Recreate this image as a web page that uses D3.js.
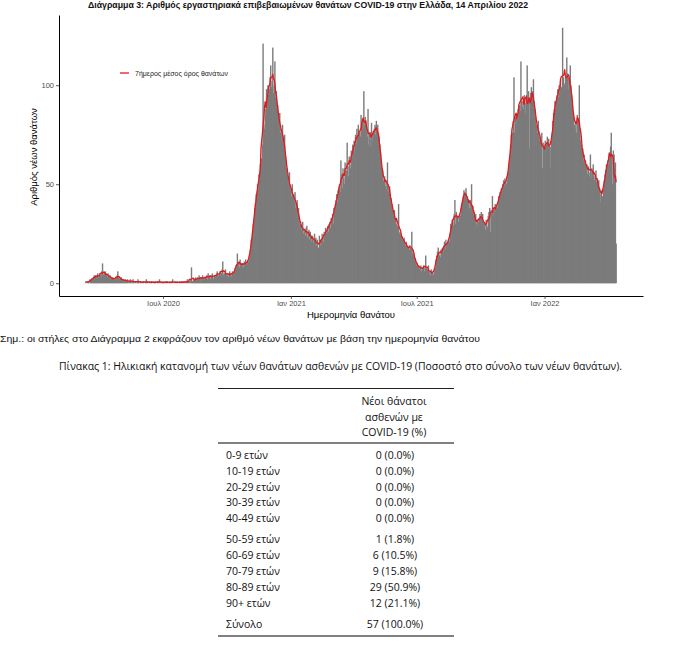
<!DOCTYPE html>
<html><head><meta charset="utf-8">
<script src="https://cdn.jsdelivr.net/npm/d3@7"></script>
<style>
html,body{margin:0;padding:0;background:#fff;}
svg{display:block;}
</style></head>
<body><svg id="c" width="680" height="646"></svg>
<script>
// ---------------- DATA ----------------
const chartTitle = "Διάγραμμα 3: Αριθμός εργαστηριακά επιβεβαιωμένων θανάτων COVID-19 στην Ελλάδα, 14 Απριλίου 2022";
const yAxisTitle = "Αριθμός νέων θανάτων";
const xAxisTitle = "Ημερομηνία θανάτου";
const legendLabel = "7ήμερος μέσος όρος θανάτων";
const noteText = "Σημ.: οι στήλες στο Διάγραμμα 2 εκφράζουν τον αριθμό νέων θανάτων με βάση την ημερομηνία θανάτου";
const tableCaption = "Πίνακας 1: Ηλικιακή κατανομή των νέων θανάτων ασθενών με COVID-19 (Ποσοστό στο σύνολο των νέων θανάτων).";

const startDate = "2020-03-12";
// daily new deaths by date of death, one value per day from startDate
const dailyDeaths = [
 // 2020 Mar (from 12th)
 1,0,0,1,1,0,2,1,2,2,2,3,4,2,4,4,2,5,3,4,
 // Apr
 5,4,3,6,10,4,5,4,6,5,4,3,5,4,3,4,2,3,2,3,2,2,1,3,3,4,6,3,2,3,
 // May
 2,3,1,2,1,2,1,2,1,1,2,1,0,1,2,1,0,1,2,1,0,1,1,0,1,2,1,0,1,1,0,
 // Jun
 1,0,1,0,0,1,2,0,1,0,0,1,0,1,1,0,0,1,0,1,0,0,1,1,0,2,0,1,0,0,
 // Jul
 1,0,0,1,0,1,1,0,0,1,0,0,1,0,2,0,0,1,0,1,0,1,0,0,1,0,1,0,1,0,1,
 // Aug
 0,1,0,1,2,0,1,1,0,2,8,1,1,2,2,1,3,2,1,3,2,4,2,3,1,3,4,2,3,2,3,
 // Sep
 3,4,2,5,3,4,2,3,4,5,3,2,4,4,3,5,6,3,4,5,6,4,5,7,11,4,5,5,7,4,
 // Oct
 5,4,3,5,6,4,5,3,6,5,4,6,7,9,8,15,9,11,8,12,10,9,9,10,8,11,9,12,10,9,11,
 // Nov
 11,12,15,17,22,21,26,30,32,38,40,45,44,50,47,55,52,60,58,63,70,121,80,78,88,85,98,92,100,95,
 // Dec
 98,104,110,99,102,119,96,100,112,94,97,88,90,85,80,86,76,78,72,80,70,74,75,66,62,58,55,52,50,56,48,
 // 2021 Jan
 47,44,50,42,45,41,46,38,40,42,36,38,33,28,30,27,29,31,25,27,26,24,28,29,23,25,27,22,26,24,21,
 // Feb
 24,22,20,25,21,23,19,22,15,18,24,21,19,22,25,23,21,26,24,28,25,27,29,26,30,31,28,33,
 // Mar
 32,35,30,38,36,40,42,45,41,47,44,50,46,62,55,48,58,53,50,61,55,57,71,59,54,64,60,58,67,63,70,
 // Apr
 68,72,66,75,70,78,73,80,70,76,74,85,77,83,78,97,80,84,72,79,74,88,70,76,73,69,81,75,71,77,
 // May
 78,80,75,82,77,80,76,74,70,66,60,58,57,52,50,54,49,52,47,61,46,48,49,45,43,40,38,36,34,37,32,
 // Jun
 33,30,29,28,40,25,26,24,25,23,22,21,23,20,19,21,18,19,18,17,17,18,17,26,15,17,14,13,12,11,
 // Jul
 9,10,8,9,7,8,9,6,8,7,9,6,8,14,8,6,7,9,5,6,4,7,5,6,4,5,7,8,12,14,16,
 // Aug
 18,15,14,13,17,16,18,15,19,21,17,22,20,20,18,22,21,25,30,27,32,31,29,35,42,30,36,32,34,31,33,
 // Sep
 35,34,38,40,42,44,47,46,45,48,43,44,41,40,38,42,36,50,37,39,34,36,27,35,30,32,29,31,33,35,
 // Oct
 33,36,32,35,31,29,30,27,32,29,28,34,36,38,26,37,35,44,34,38,37,40,36,39,38,41,44,43,46,45,48,
 // Nov
 47,50,52,49,53,51,50,54,52,56,60,64,70,75,72,76,82,104,76,84,80,86,83,88,85,90,87,112,92,89,
 // Dec
 92,88,95,91,86,93,110,90,97,68,94,96,99,93,97,103,92,88,84,80,78,76,82,77,72,74,70,76,58,71,69,
 // 2022 Jan
 68,72,66,70,74,72,73,70,69,58,72,76,82,86,88,92,88,92,95,98,94,100,97,103,99,98,129,104,101,100,104,
 // Feb
 103,114,106,98,104,102,110,100,95,90,86,84,80,78,82,76,85,80,83,100,78,72,70,66,68,62,65,60,
 // Mar
 62,58,60,55,59,56,54,65,53,58,56,60,54,52,55,57,51,53,49,52,48,41,45,47,44,43,48,52,55,57,60,
 // Apr (to 14th)
 58,62,60,66,63,69,76,64,50,67,65,58,61,20
];

const xTickDates  = ["2020-07-01","2021-01-01","2021-07-01","2022-01-01"];
const xTickLabels = ["Ιουλ 2020","Ιαν 2021","Ιουλ 2021","Ιαν 2022"];
const yTickValues = [0, 50, 100];

// Table 1
const tableHeader = ["Νέοι θάνατοι","ασθενών με","COVID-19 (%)"];
const ageGroups = ["0-9 ετών","10-19 ετών","20-29 ετών","30-39 ετών","40-49 ετών",
                   "50-59 ετών","60-69 ετών","70-79 ετών","80-89 ετών","90+ ετών"];
const ageDeaths = [0,0,0,0,0,1,6,9,29,12];
const agePercents = ["0.0%","0.0%","0.0%","0.0%","0.0%","1.8%","10.5%","15.8%","50.9%","21.1%"];
const totalLabel = "Σύνολο";
const totalDeaths = 57;
const totalPercent = "100.0%";

// ---------------- CHART ----------------
const svg = d3.select("#c");
const DAY = 864e5;
const parse = d3.utcParse("%Y-%m-%d");
const t0 = parse(startDate);
const series = dailyDeaths.map((v,i)=>({date:new Date(t0.getTime()+i*DAY), v}));
// centred 7-day rolling mean
series.forEach((d,i)=>{
  const w = dailyDeaths.slice(Math.max(0,i-3), Math.min(dailyDeaths.length,i+4));
  d.avg = d3.mean(w);
});

const first = series[0].date, last = series[series.length-1].date;
const spanMs = (last-first) + 0.9*DAY;
const padMs = spanMs*0.05;
const x = d3.scaleUtc()
  .domain([new Date(first.getTime()-0.45*DAY-padMs), new Date(last.getTime()+0.45*DAY+padMs)])
  .range([59, 643]);
const maxV = d3.max(dailyDeaths);
const y = d3.scaleLinear().domain([-0.05*maxV, maxV*1.05]).range([296, 15]);

const dayW = x(new Date(first.getTime()+DAY)) - x(first);

// bars
svg.append("g").selectAll("rect").data(series).join("rect")
  .attr("x", d=>x(d.date)-dayW*0.5-0.35)
  .attr("width", dayW+0.7)
  .attr("y", d=>y(d.v))
  .attr("height", d=>Math.max(0, y(0)-y(d.v)))
  .attr("fill", "#7b7b7b");

// rolling mean line
svg.append("path").datum(series)
  .attr("d", d3.line().x(d=>x(d.date)).y(d=>y(d.avg)))
  .attr("fill","none").attr("stroke","#e3191c").attr("stroke-width",1.3)
  .attr("stroke-linejoin","round");

// axes
const yAx = svg.append("g").attr("transform","translate(59,0)")
  .call(d3.axisLeft(y).tickValues(yTickValues).tickSize(3).tickSizeOuter(0).tickPadding(2));
const xAx = svg.append("g").attr("transform","translate(0,296)")
  .call(d3.axisBottom(x).tickValues(xTickDates.map(parse)).tickSize(3).tickSizeOuter(0).tickPadding(2)
        .tickFormat((d,i)=>xTickLabels[i]));
[yAx,xAx].forEach(g=>{
  g.select(".domain").attr("stroke","#000").attr("stroke-width",1);
  g.selectAll(".tick line").attr("stroke","#333").attr("stroke-width",0.8);
  g.selectAll(".tick text").attr("fill","#4d4d4d").style("font-family","'Liberation Sans',Arial,sans-serif").style("font-size","7.5px");
});

// axis titles
svg.append("text").attr("transform","translate(34,157) rotate(-90)")
  .attr("text-anchor","middle").attr("dominant-baseline","middle")
  .style("font-family","'Liberation Sans',Arial,sans-serif").style("font-size","9.5px")
  .text(yAxisTitle);
svg.append("text").attr("x",351).attr("y",318).attr("text-anchor","middle")
  .style("font-family","'Liberation Sans',Arial,sans-serif").style("font-size","9.5px")
  .text(xAxisTitle);

// legend
svg.append("line").attr("x1",120).attr("x2",129).attr("y1",73).attr("y2",73)
  .attr("stroke","#e3191c").attr("stroke-width",1.3);
svg.append("text").attr("x",135).attr("y",75.5)
  .style("font-family","'Liberation Sans',Arial,sans-serif").style("font-size","7px").attr("fill","#222")
  .text(legendLabel);

// title
svg.append("text").attr("x",88).attr("y",7.5)
  .attr("textLength",440).attr("lengthAdjust","spacingAndGlyphs")
  .style("font-family","'Liberation Sans',Arial,sans-serif").style("font-size","8.5px").style("font-weight","bold")
  .attr("fill","#111").text(chartTitle);

// note
svg.append("text").attr("x",0).attr("y",342)
  .attr("textLength",480).attr("lengthAdjust","spacingAndGlyphs")
  .style("font-family","'Liberation Sans',Arial,sans-serif").style("font-size","9.5px")
  .attr("fill","#111").text(noteText);

// table caption
svg.append("text").attr("x",59).attr("y",370)
  .attr("textLength",563).attr("lengthAdjust","spacingAndGlyphs")
  .style("font-family","'Open Sans',sans-serif").style("font-size","11px")
  .attr("fill","#111").text(tableCaption);

// ---------------- TABLE ----------------
const tf = "'Open Sans',sans-serif";
const tg = svg.append("g").style("font-family",tf).style("font-size","10.5px").attr("fill","#111");
const colX = 395, labX = 226;
tg.append("line").attr("x1",218).attr("x2",454).attr("y1",388.5).attr("y2",388.5).attr("stroke","#222").attr("stroke-width",1);
tableHeader.forEach((h,i)=>{
  tg.append("text").attr("x",colX-1).attr("y",405+i*15.7).attr("text-anchor","middle").text(h);
});
tg.append("line").attr("x1",218).attr("x2",454).attr("y1",443).attr("y2",443).attr("stroke","#808080").attr("stroke-width",2);
const rowY = i => i<5 ? 459 + i*15.8 : 543 + (i-5)*16;
ageGroups.forEach((a,i)=>{
  tg.append("text").attr("x",labX).attr("y",rowY(i)).text(a);
  tg.append("text").attr("x",colX).attr("y",rowY(i)).attr("text-anchor","middle")
    .text(`${ageDeaths[i]} (${agePercents[i]})`);
});
tg.append("text").attr("x",labX).attr("y",628).text(totalLabel);
tg.append("text").attr("x",colX).attr("y",628).attr("text-anchor","middle").text(`${totalDeaths} (${totalPercent})`);
tg.append("line").attr("x1",218).attr("x2",454).attr("y1",636).attr("y2",636).attr("stroke","#808080").attr("stroke-width",2);
</script>
</body></html>
